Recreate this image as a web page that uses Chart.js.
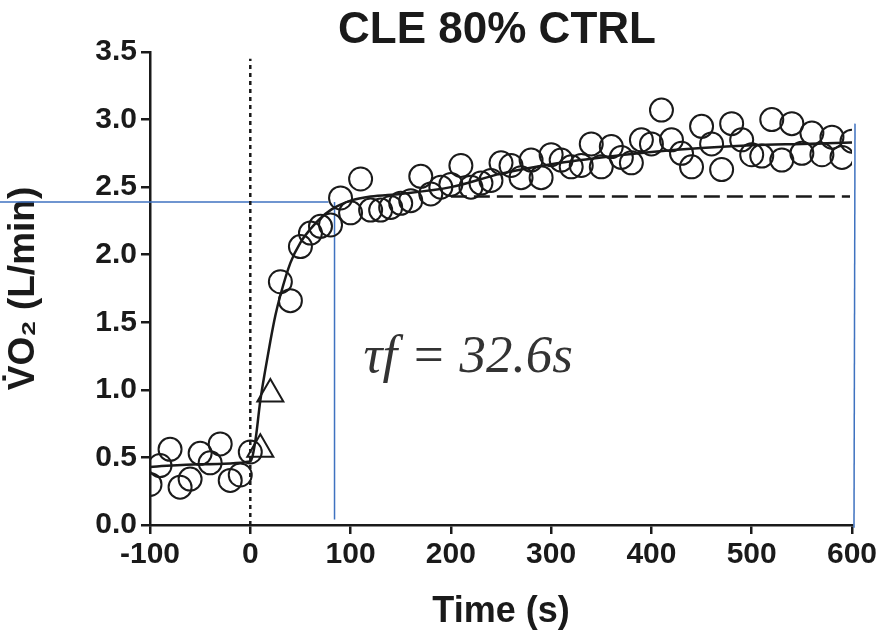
<!DOCTYPE html>
<html>
<head>
<meta charset="utf-8">
<script src="https://cdn.jsdelivr.net/npm/chart.js@4.4.1/dist/chart.umd.min.js"></script>
<style>
  html, body { margin: 0; padding: 0; background: #fff; }
  #wrap { width: 892px; height: 638px; }
</style>
</head>
<body>
<div id="wrap"><canvas id="c" width="892" height="638"></canvas></div>
<script>
// baseline (open circles)
const baseTimes = [-100, -90, -80, -70, -60, -50, -40, -30, -20, -10, 0];
const baseVO2 = [0.30, 0.44, 0.56, 0.28, 0.34, 0.53, 0.46, 0.60, 0.33, 0.37, 0.54];

// phase I (open triangles, excluded from fit)
const phase1Times = [10, 20];
const phase1VO2 = [0.56, 0.97];

// exercise response (open circles)
const respTimes = [30, 40, 50, 60, 70, 80, 90, 100, 110, 120, 130, 140, 150, 160, 170, 180, 190, 200,
  210, 220, 230, 240, 250, 260, 270, 280, 290, 300, 310, 320, 330, 340, 350, 360, 370, 380, 390, 400,
  410, 420, 430, 440, 450, 460, 470, 480, 490, 500, 510, 520, 530, 540, 550, 560, 570, 580, 590, 600];
const respVO2 = [1.80, 1.66, 2.06, 2.16, 2.21, 2.22, 2.42, 2.31, 2.56, 2.33, 2.33, 2.35, 2.38, 2.40, 2.58, 2.45, 2.50, 2.52,
  2.66, 2.50, 2.53, 2.55, 2.68, 2.66, 2.57, 2.70, 2.57, 2.74, 2.70, 2.65, 2.66, 2.82, 2.65, 2.80, 2.72, 2.68, 2.85, 2.82,
  3.07, 2.85, 2.75, 2.65, 2.95, 2.82, 2.63, 2.97, 2.85, 2.74, 2.73, 3.00, 2.70, 2.97, 2.75, 2.90, 2.74, 2.87, 2.72, 2.84];

// model fit
const fitTimes = [-100, -50, 0, 5, 10, 15, 20, 25, 30, 40, 50, 60, 70, 80, 90, 100, 120, 150, 200, 250, 300, 350, 400, 450, 500, 550, 600];
const fitVO2 = [0.43, 0.45, 0.47, 0.62, 0.92, 1.15, 1.36, 1.55, 1.70, 1.94, 2.09, 2.19, 2.27, 2.33, 2.37, 2.40, 2.43, 2.45, 2.50, 2.60, 2.67, 2.72, 2.76, 2.79, 2.81, 2.82, 2.83];

// primary amplitude (dashed) and exercise onset (dotted)
const primaryTimes = [200, 598];
const primaryVO2 = [2.43, 2.43];
const onsetTimes = [0, 0];
const onsetVO2 = [0, 3.45];

// blue guide lines drawn over the figure
const guideATimes = [-250, 78];
const guideAVO2 = [2.39, 2.39];
const guideBTimes = [84, 84];
const guideBVO2 = [2.39, 0.04];
const guideCTimes = [603, 602];
const guideCVO2 = [2.97, -0.02];

const xTicks = [-100, 0, 100, 200, 300, 400, 500, 600];
const yTicks = [0, 0.5, 1.0, 1.5, 2.0, 2.5, 3.0, 3.5];

const titleText = 'CLE 80% CTRL';
const tauText = 'τf = 32.6s';

const pts = (xs, ys) => xs.map((x, i) => ({ x, y: ys[i] }));
const ink = '#1a1a1a';
const blue = '#3f72c0';
const sans = "'Liberation Sans', Arial, sans-serif";

const textPlugin = {
  id: 'texts',
  afterDraw(chart) {
    const { ctx, chartArea, scales } = chart;
    ctx.save();
    ctx.fillStyle = ink;
    ctx.textAlign = 'center';
    ctx.textBaseline = 'middle';
    ctx.font = 'bold 44px ' + sans;
    ctx.fillText(titleText, (chartArea.left + chartArea.right) / 2 - 4, 31);
    ctx.fillStyle = '#333';
    ctx.textAlign = 'left';
    ctx.textBaseline = 'alphabetic';
    ctx.font = "italic 53px 'Liberation Serif', 'Times New Roman', serif";
    ctx.fillText(tauText, scales.x.getPixelForValue(113), scales.y.getPixelForValue(1.13));
    ctx.restore();
  }
};

const line = (data, color, width, dash, extra) => Object.assign({
  type: 'line', data, borderColor: color, borderWidth: width, borderDash: dash,
  pointRadius: 0, fill: false, tension: 0
}, extra || {});

new Chart(document.getElementById('c'), {
  type: 'scatter',
  data: {
    datasets: [
      line(pts(fitTimes, fitVO2), ink, 2.5, [], { cubicInterpolationMode: 'monotone', order: 0 }),
      line(pts(primaryTimes, primaryVO2), ink, 2.5, [16, 7]),
      line(pts(onsetTimes, onsetVO2), ink, 2.5, [4, 4]),
      { data: pts(baseTimes, baseVO2), pointStyle: 'circle', pointRadius: 11.5, borderColor: ink, borderWidth: 2, backgroundColor: 'rgba(0,0,0,0)' },
      { data: pts(phase1Times, phase1VO2), pointStyle: 'triangle', pointRadius: 15, borderColor: ink, borderWidth: 2, backgroundColor: 'rgba(0,0,0,0)' },
      { data: pts(respTimes, respVO2), pointStyle: 'circle', pointRadius: 11.5, borderColor: ink, borderWidth: 2, backgroundColor: 'rgba(0,0,0,0)' },
      line(pts(guideATimes, guideAVO2), blue, 1.5, [], { clip: false }),
      line(pts(guideBTimes, guideBVO2), blue, 1.5, [], { clip: false }),
      line(pts(guideCTimes, guideCVO2), blue, 1.5, [], { clip: false })
    ]
  },
  options: {
    responsive: false,
    animation: false,
    events: [],
    layout: { padding: { top: 52, right: 40, left: 0, bottom: 0 } },
    plugins: { legend: { display: false }, tooltip: { enabled: false } },
    scales: {
      x: {
        type: 'linear', min: -100, max: 600,
        afterFit: s => { s.height = 113; },
        afterBuildTicks: s => { s.ticks = xTicks.map(v => ({ value: v })); },
        border: { display: true, color: ink, width: 2.5 },
        grid: { drawOnChartArea: false, drawTicks: true, tickLength: 9, color: ink, lineWidth: 2.5 },
        ticks: { color: ink, padding: 3, maxRotation: 0, font: { family: sans, size: 30, weight: 'bold' },
          callback: v => String(v) },
        title: { display: true, text: 'Time (s)', color: ink, padding: { top: 0, bottom: 4 },
          font: { family: sans, size: 36, weight: 'bold' } }
      },
      y: {
        type: 'linear', min: 0, max: 3.5,
        afterFit: s => { s.width = 150; },
        afterBuildTicks: s => { s.ticks = yTicks.map(v => ({ value: v })); },
        border: { display: true, color: ink, width: 2.5 },
        grid: { drawOnChartArea: false, drawTicks: true, tickLength: 9, color: ink, lineWidth: 2.5 },
        ticks: { color: ink, padding: 4, font: { family: sans, size: 30, weight: 'bold' },
          callback: v => v.toFixed(1) },
        title: { display: true, text: 'V̇O₂ (L/min)', color: ink, padding: { top: 2, bottom: 0 },
          font: { family: sans, size: 37, weight: 'bold' } }
      }
    }
  },
  plugins: [textPlugin]
});
</script>
</body>
</html>
